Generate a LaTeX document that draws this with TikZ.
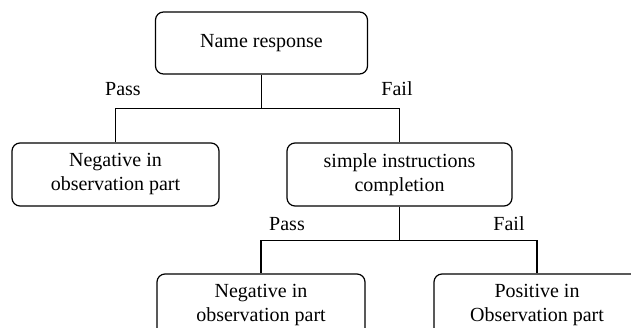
\documentclass[tikz,border=0pt]{standalone}
\usepackage{fontspec}
\setmainfont{Liberation Serif}
\usepackage{tikz}

\begin{document}
\begin{tikzpicture}[x=1pt, y=-1pt,
  box/.style={draw, line width=1.2pt, rounded corners=8pt, align=center,
    minimum height=63pt, inner sep=0pt, font=\fontsize{20}{24}\selectfont},
  branch/.style={font=\fontsize{20}{24}\selectfont}]
\useasboundingbox (0,0) rectangle (631,328);
\clip (0,0) rectangle (631,328);

\node[box, minimum width=212pt, minimum height=62pt] (root) at (261.5,43) {Name response};
\node[box, minimum width=207pt] (neg1) at (115.5,174.5) {Negative in\\observation part};
\node[box, minimum width=225pt] (simple) at (399.5,174.5) {simple instructions\\completion};
\node[box, minimum width=208pt] (neg2) at (261,305.5) {Negative in\\observation part};
\node[box, minimum width=206pt] (pos) at (537,305.5) {Positive in\\Observation part};

\node[branch] (pass1) at (123,89) {Pass};
\node[branch] (fail1) at (397,89) {Fail};
\node[branch] (pass2) at (287,224) {Pass};
\node[branch] (fail2) at (509,224) {Fail};

\draw[line width=1.2pt] (root.south) -- ++(0,34) coordinate (j1);
\draw[line width=1.2pt] (j1) -| (neg1.north);
\draw[line width=1.2pt] (j1) -| (simple.north);
\draw[line width=1.2pt] (simple.south) -- ++(0,34) coordinate (j2);
\draw[line width=1.2pt] (j2) -| (neg2.north);
\draw[line width=1.2pt] (j2) -| (pos.north);
\end{tikzpicture}
\end{document}
